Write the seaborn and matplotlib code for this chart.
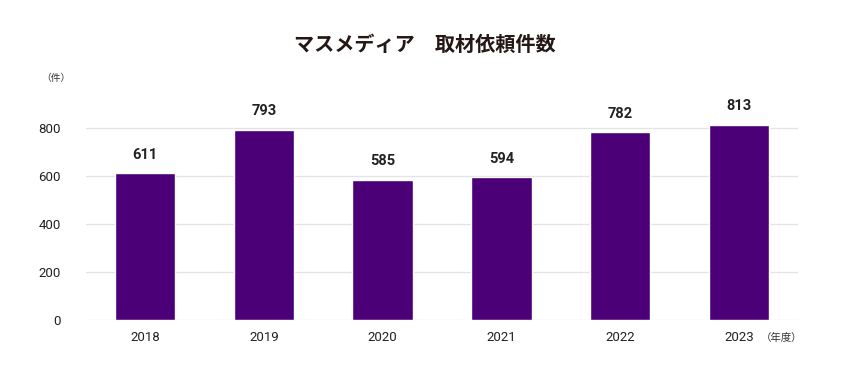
import matplotlib
matplotlib.use("Agg")
import matplotlib.pyplot as plt
import seaborn as sns
import pandas as pd

# data
years = ['2018', '2019', '2020', '2021', '2022', '2023']
requests = [611, 793, 585, 594, 782, 813]

df = pd.DataFrame({'Year': years, 'Count': requests})

sns.set_theme(style='white')
plt.rcParams['font.family'] = ['Roboto', 'Noto Sans CJK JP', 'DejaVu Sans']
cjk = ['Noto Sans CJK JP', 'DejaVu Sans']

fig = plt.figure(figsize=(8.5, 3.85), dpi=100)
ax = fig.add_axes([0.101, 0.169, 0.838, 0.623])

sns.barplot(data=df, x='Year', y='Count', color='#4b0078', saturation=1,
            width=0.51, ax=ax, zorder=3)

ax.set_ylim(0, 1000)
ax.set_yticks([0, 200, 400, 600, 800])
ax.grid(axis='y', color='#e3e3e3', linewidth=0.9, zorder=0)
ax.set_xlim(-0.5, len(years) - 0.5)
for s in ax.spines.values():
    s.set_visible(False)
ax.set_xlabel('')
ax.set_ylabel('')
ax.tick_params(axis='y', length=0, labelsize=9.5, colors='#222222', pad=18)
ax.tick_params(axis='x', length=0, labelsize=9.5, colors='#222222', pad=8)

for i, v in enumerate(requests):
    ax.text(i, v + 48, str(v), ha='center', va='bottom', fontsize=10.5,
            fontweight='bold', color='#222222')

fig.text(0.5, 0.885, 'マスメディア　取材依頼件数', ha='center', va='center',
         fontsize=14.5, fontweight='bold', color='#231815', family=cjk)
fig.text(0.066, 0.797, '（件）', ha='center', va='center', fontsize=7,
         color='#333333', family=cjk)
fig.text(0.92, 0.122, '（年度）', ha='center', va='center', fontsize=7.5,
         color='#333333', family=cjk)

fig.savefig('out.png', dpi=100, facecolor='white')
